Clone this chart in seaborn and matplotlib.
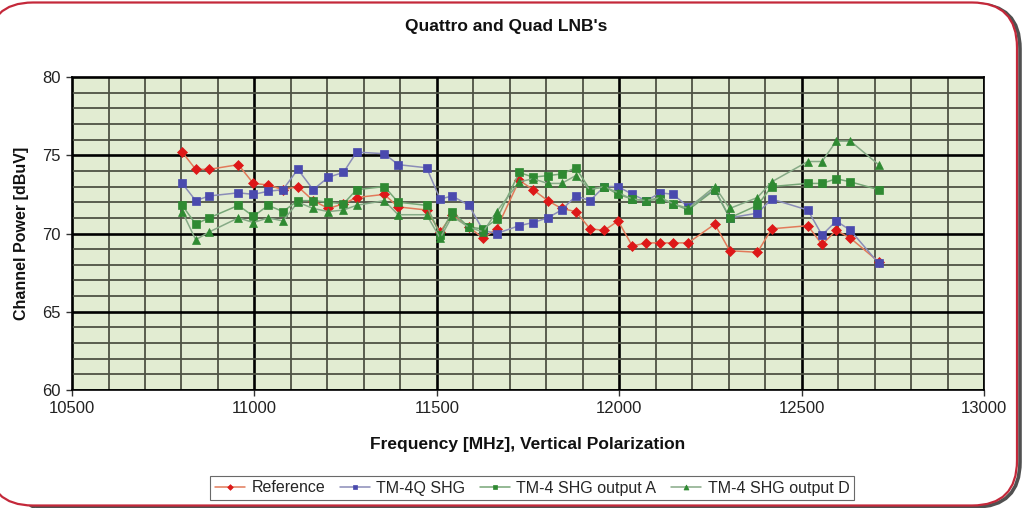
import matplotlib
matplotlib.use('Agg')
import matplotlib.pyplot as plt
import matplotlib.patches as mpatches
from matplotlib.ticker import MultipleLocator
import seaborn as sns
import pandas as pd

freq = [10802, 10839, 10876, 10956, 10997, 11038, 11078, 11119, 11161, 11203,
        11244, 11280, 11356, 11394, 11472, 11509, 11542, 11588, 11627, 11664,
        11726, 11764, 11804, 11842, 11881, 11920, 11959, 11997, 12036, 12074,
        12113, 12148, 12189, 12262, 12303, 12379, 12418, 12517, 12556, 12595,
        12634, 12711]

reference = [75.2, 74.1, 74.1, 74.4, 73.2, 73.1, 72.8, 73.0, 72.1, 71.6,
             71.9, 72.3, 72.5, 71.7, 71.5, 70.1, 71.2, 70.4, 69.7, 70.3,
             73.4, 72.8, 72.1, 71.6, 71.4, 70.3, 70.2, 70.8, 69.2, 69.4,
             69.4, 69.4, 69.4, 70.6, 68.9, 68.8, 70.3, 70.5, 69.3, 70.2,
             69.7, 68.2]

tm4q = [73.2, 72.1, 72.4, 72.6, 72.5, 72.7, 72.8, 74.1, 72.8, 73.6,
        73.9, 75.2, 75.1, 74.4, 74.2, 72.2, 72.4, 71.8, 70.2, 70.0,
        70.5, 70.7, 71.0, 71.5, 72.4, 72.1, 73.0, 73.0, 72.5, 72.1,
        72.6, 72.5, 71.7, 72.8, 71.0, 71.3, 72.2, 71.5, 69.9, 70.8,
        70.2, 68.1]

out_a = [71.8, 70.6, 71.0, 71.8, 71.1, 71.8, 71.4, 72.1, 72.1, 72.0,
         71.9, 72.8, 73.0, 72.0, 71.8, 69.9, 71.4, 70.4, 70.3, 70.9,
         73.9, 73.6, 73.7, 73.8, 74.2, 72.8, 73.0, 72.5, 72.2, 72.1,
         72.2, 71.9, 71.5, 72.8, 71.0, 71.8, 73.0, 73.2, 73.2, 73.5,
         73.3, 72.8]

out_d = [71.4, 69.6, 70.1, 71.0, 70.7, 71.0, 70.8, 72.0, 71.6, 71.4,
         71.5, 71.8, 72.1, 71.2, 71.2, 69.7, 71.1, 70.4, 70.1, 71.4,
         73.3, 73.5, 73.2, 73.2, 73.7, 72.8, 73.0, 72.6, 72.2, 72.1,
         72.3, 71.9, 71.6, 73.0, 71.6, 72.3, 73.3, 74.6, 74.6, 75.9,
         75.9, 74.4]

df = pd.DataFrame({'freq': freq, 'Reference': reference, 'TM-4Q SHG': tm4q,
                   'TM-4 SHG output A': out_a, 'TM-4 SHG output D': out_d})

sns.set_style("white")
plt.rcParams['font.family'] = ['Liberation Sans', 'DejaVu Sans']

fig = plt.figure(figsize=(10.22, 5.08), dpi=100)
fig.patch.set_facecolor('white')

# sombra gris a la derecha y marco rojo redondeado
sombra = mpatches.FancyBboxPatch((-0.09, 0.01), 10.29, 5.03,
                                 boxstyle="round,pad=0,rounding_size=0.45",
                                 transform=fig.dpi_scale_trans, facecolor='none',
                                 edgecolor='#505050', linewidth=2.6, zorder=-6)
fig.patches.append(sombra)
marco = mpatches.FancyBboxPatch((-0.12, 0.025), 10.29, 5.03,
                                boxstyle="round,pad=0,rounding_size=0.45",
                                transform=fig.dpi_scale_trans, facecolor='white',
                                edgecolor='#C4283A', linewidth=1.6, zorder=-5)
fig.patches.append(marco)

ax = fig.add_axes([0.0705, 0.2323, 0.8923, 0.6161])
ax.set_facecolor('#E2ECD2')

series = [
    ('Reference', '#E27A5A', '#DD1818', 'D', 4.8),
    ('TM-4Q SHG', '#8A8CB8', '#4A4AAE', 's', 5.5),
    ('TM-4 SHG output A', '#76A676', '#2F8A32', 's', 5.5),
    ('TM-4 SHG output D', '#86AA86', '#2F8A32', '^', 6),
]
for nombre, c_linea, c_marca, mk, ms in series:
    sns.lineplot(data=df, x='freq', y=nombre, ax=ax, label=nombre, color=c_linea,
                 linewidth=1.1, marker=mk, markersize=ms, markerfacecolor=c_marca,
                 markeredgecolor=c_marca, markeredgewidth=0.5, zorder=3)

ax.set_xlim(10500, 13000)
ax.set_ylim(60, 80)
ax.xaxis.set_major_locator(MultipleLocator(500))
ax.xaxis.set_minor_locator(MultipleLocator(100))
ax.yaxis.set_major_locator(MultipleLocator(5))
ax.yaxis.set_minor_locator(MultipleLocator(1))
ax.grid(True, which='minor', color='#4E5244', linewidth=1.3, zorder=1)
ax.grid(True, which='major', color='black', linewidth=1.9, zorder=1)
ax.set_axisbelow(True)
for s in ax.spines.values():
    s.set_color('black')
    s.set_linewidth(1.2)
ax.tick_params(axis='both', which='major', length=4, width=1, color='#333333',
               labelcolor='#222222', direction='out', left=True, bottom=True)
ax.tick_params(axis='x', which='major', labelsize=12, pad=4)
ax.tick_params(axis='y', which='major', labelsize=12, pad=4)
ax.tick_params(axis='both', which='minor', length=0)

ax.set_xlabel('Frequency [MHz], Vertical Polarization', fontsize=12.5, fontweight='bold',
              color='#111111', labelpad=15)
ax.set_ylabel('Channel Power [dBuV]', fontsize=11.5, fontweight='bold', color='#111111',
              labelpad=10)
fig.text(506 / 1022, 1 - 27 / 508, "Quattro and Quad LNB's", ha='center', va='center',
         fontsize=12.5, fontweight='bold', color='#111111')

leg = ax.legend(loc='center', bbox_to_anchor=(532 / 1022, 1 - 488 / 508),
                bbox_transform=fig.transFigure, ncol=4, frameon=True, fancybox=False,
                edgecolor='#444444', fontsize=11.5, handlelength=1.9, handletextpad=0.4,
                columnspacing=0.9, borderpad=0.3, markerscale=0.6)
leg.get_frame().set_linewidth(0.8)

fig.savefig('out.png', dpi=100)
